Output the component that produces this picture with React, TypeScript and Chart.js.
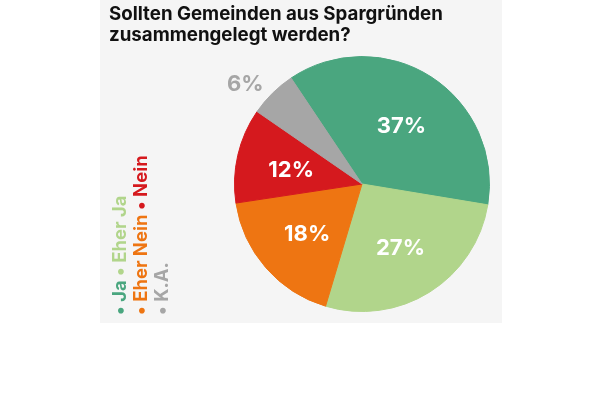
import React, { useEffect, useRef } from "react";
import { Chart, registerables } from "chart.js";

Chart.register(...registerables);

const titleLines = ["Sollten Gemeinden aus Spargründen", "zusammengelegt werden?"];
const categories = ["Ja", "Eher Ja", "Eher Nein", "Nein", "K.A."];
const values = [37, 27, 18, 12, 6];
const colors = ["#4aa67f", "#b1d58b", "#ee7512", "#d5191e", "#a6a6a6"];
const legendColumns = [[0, 1], [2, 3], [4]];
const outsideLabels = [false, false, false, false, true];

const FONT = "Inter, 'Open Sans', sans-serif";

const panelPlugin = {
  id: "panel",
  beforeDraw(chart: any) {
    const ctx = chart.ctx;
    ctx.save();
    ctx.fillStyle = "#ffffff";
    ctx.fillRect(0, 0, chart.width, chart.height);
    ctx.fillStyle = "#f5f5f5";
    ctx.fillRect(100, 0, 402, 323);
    ctx.restore();
  },
};

const labelPlugin = {
  id: "sliceLabels",
  afterDatasetsDraw(chart: any) {
    const ctx = chart.ctx;
    const meta = chart.getDatasetMeta(0);
    ctx.save();
    ctx.textBaseline = "middle";
    ctx.font = `700 22px ${FONT}`;
    meta.data.forEach((arc: any, i: number) => {
      const p = arc.getProps(["x", "y", "startAngle", "endAngle", "outerRadius"], true);
      const mid = (p.startAngle + p.endAngle) / 2;
      const outside = outsideLabels[i];
      const f = outside ? 1.1 : 0.57;
      const x = p.x + Math.cos(mid) * p.outerRadius * f;
      const y = p.y + Math.sin(mid) * p.outerRadius * f + (outside ? 0 : 3);
      ctx.textAlign = outside ? "right" : "center";
      ctx.fillStyle = outside ? colors[i] : "#ffffff";
      ctx.fillText(values[i] + "%", x, y);
    });
    ctx.restore();
  },
};

const textPlugin = {
  id: "titleLegend",
  afterDraw(chart: any) {
    const ctx = chart.ctx;
    ctx.save();
    ctx.fillStyle = "#111111";
    ctx.font = `700 18.7px ${FONT}`;
    ctx.textAlign = "left";
    ctx.textBaseline = "alphabetic";
    titleLines.forEach((line, i) => ctx.fillText(line, 109, 20 + i * 21));

    ctx.font = `700 18.5px ${FONT}`;
    ctx.textBaseline = "middle";
    legendColumns.forEach((col, ci) => {
      ctx.save();
      ctx.translate(120 + ci * 21, 315);
      ctx.rotate(-Math.PI / 2);
      let x = 0;
      col.forEach((idx) => {
        ctx.fillStyle = colors[idx];
        const bullet = "• ";
        ctx.fillText(bullet, x, 0);
        x += ctx.measureText(bullet).width;
        const label = categories[idx] + " ";
        ctx.fillText(label, x, 0);
        x += ctx.measureText(label).width;
      });
      ctx.restore();
    });
    ctx.restore();
  },
};

export default function App() {
  const ref = useRef<HTMLCanvasElement | null>(null);
  useEffect(() => {
    if (!ref.current) return;
    const chart = new Chart(ref.current, {
      type: "pie",
      data: {
        labels: categories,
        datasets: [
          {
            data: values,
            backgroundColor: colors,
            borderColor: colors,
            borderWidth: 1,
          },
        ],
      },
      options: {
        responsive: false,
        animation: false,
        rotation: -33.8,
        layout: { padding: { left: 234, right: 110, top: 56, bottom: 88 } },
        plugins: {
          legend: { display: false },
          title: { display: false },
          tooltip: { enabled: false },
        },
      },
      plugins: [panelPlugin, labelPlugin, textPlugin],
    });
    return () => chart.destroy();
  }, []);
  return (
    <div style={{ position: "fixed", left: 0, top: 0, width: 600, height: 400, background: "#fff" }}>
      <canvas ref={ref} width={600} height={400} style={{ width: 600, height: 400 }} />
    </div>
  );
}
